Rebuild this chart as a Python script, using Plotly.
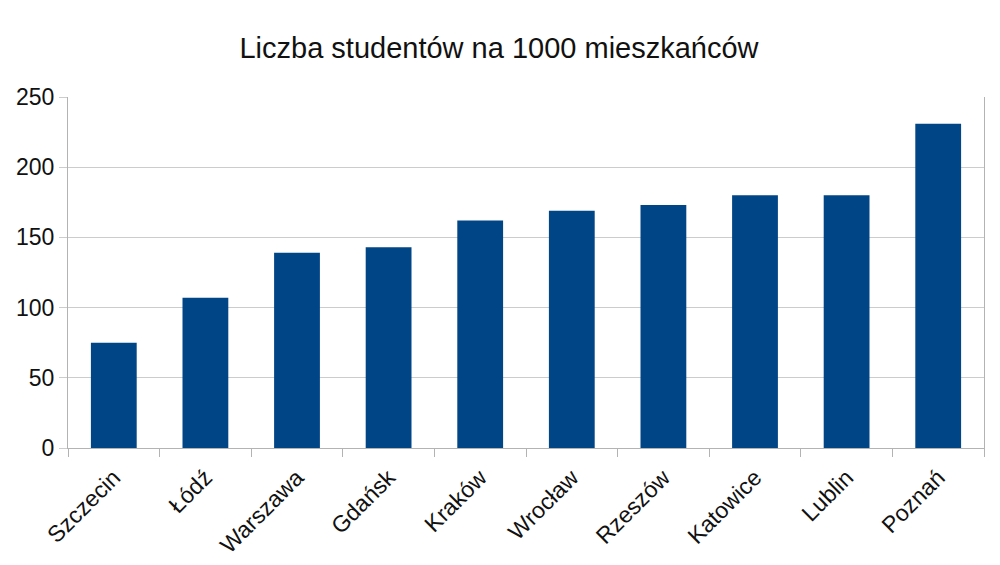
import plotly.graph_objects as go

# data
cities = ["Szczecin", "Łódź", "Warszawa", "Gdańsk", "Kraków",
          "Wrocław", "Rzeszów", "Katowice", "Lublin", "Poznań"]
students_per_1000 = [75, 107, 139, 143, 162, 169, 173, 180, 180, 231]
y_ticks = [0, 50, 100, 150, 200, 250]

fig = go.Figure(
    go.Bar(
        x=cities,
        y=students_per_1000,
        marker=dict(color="#004586", line=dict(width=0)),
        width=0.5,
    )
)

# page body adds ~8px margin, so the figure is a bit smaller than the window
fig.update_layout(
    width=992,
    height=557,
    paper_bgcolor="white",
    plot_bgcolor="white",
    margin=dict(l=60, r=16, t=89, b=117),
    font=dict(family="Liberation Sans, Arial, sans-serif", size=23, color="#111"),
    title=dict(
        text="Liczba studentów na 1000 mieszkańców",
        x=491 / 992, xref="container", xanchor="center",
        y=1 - 40 / 557, yref="container", yanchor="middle",
        font=dict(size=29, color="#111"),
    ),
    showlegend=False,
)

fig.update_xaxes(
    automargin=False,
    tickangle=-45,
    ticks="outside",
    tickson="boundaries",
    ticklen=8,
    tickcolor="#b3b3b3",
    ticklabelstandoff=6,
    showline=True,
    linecolor="#b3b3b3",
    showgrid=False,
)
fig.update_yaxes(
    automargin=False,
    range=[0, 250],
    tickvals=y_ticks,
    ticks="outside",
    ticklen=8,
    tickcolor="#cccccc",
    showgrid=True,
    gridcolor="#cccccc",
    showline=True,
    linecolor="#b3b3b3",
    mirror=True,
    zeroline=False,
)

fig.write_html("out.html")
